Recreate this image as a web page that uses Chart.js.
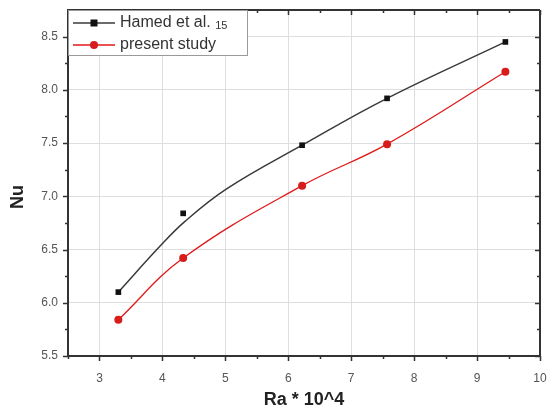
<!DOCTYPE html>
<html>
<head>
<meta charset="utf-8">
<script src="https://cdn.jsdelivr.net/npm/chart.js@4.4.1/dist/chart.umd.min.js"></script>
<style>
  html, body { margin: 0; padding: 0; background: #fff; }
  #wrap { width: 548px; height: 414px; }
</style>
</head>
<body>
<div id="wrap"><canvas id="c" width="548" height="414"></canvas></div>
<script>
// Nusselt number against Rayleigh number (Ra in units of 10^4)
const raValues  = [3.3, 4.33, 6.22, 7.57, 9.45];
const hamedNu   = [6.10, 6.84, 7.48, 7.92, 8.45];
const presentNu = [5.84, 6.42, 7.10, 7.49, 8.17];

// smooth fitted curve for the Hamed et al. data
const hamedFitRa = [3.3, 3.96, 4.35, 5.02, 6.22, 7.57, 9.45];
const hamedFitNu = [6.10, 6.53, 6.76, 7.07, 7.48, 7.92, 8.45];

const xTicks = [3, 4, 5, 6, 7, 8, 9, 10];
const yTicks = [5.5, 6.0, 6.5, 7.0, 7.5, 8.0, 8.5];
const xMinor = [2.5, 3.5, 4.5, 5.5, 6.5, 7.5, 8.5, 9.5];
const yMinor = [5.75, 6.25, 6.75, 7.25, 7.75, 8.25];

const seriesNames = ['Hamed et al.', 'present study'];

const FONT = "'Liberation Sans', Arial, sans-serif";
const BLACK = '#111111';
const DARK_LINE = '#3a3a3a';
const RED = '#e01818';

const pts = (xs, ys) => xs.map((x, i) => ({ x: x, y: ys[i] }));

// frame, tick marks, axis titles and legend box
const decor = {
  id: 'decor',
  afterDraw(chart) {
    const { ctx, chartArea: a, scales: { x, y } } = chart;
    ctx.save();
    ctx.strokeStyle = '#333';
    ctx.lineWidth = 2;
    ctx.beginPath();
    ctx.moveTo(a.left, a.top); ctx.lineTo(a.right, a.top);
    ctx.moveTo(a.right, a.top); ctx.lineTo(a.right, a.bottom);
    ctx.stroke();

    ctx.lineWidth = 1.5;
    ctx.beginPath();
    const tickX = (v, len) => {
      const px = Math.round(x.getPixelForValue(v)) + 0.5;
      ctx.moveTo(px, a.bottom); ctx.lineTo(px, a.bottom + len);
      ctx.moveTo(px, a.top); ctx.lineTo(px, a.top + len);
    };
    const tickY = (v, len) => {
      const py = Math.round(y.getPixelForValue(v)) + 0.5;
      ctx.moveTo(a.left, py); ctx.lineTo(a.left - len, py);
      ctx.moveTo(a.right, py); ctx.lineTo(a.right - len, py);
    };
    xTicks.forEach(v => tickX(v, 5));
    xMinor.forEach(v => tickX(v, 3));
    yTicks.forEach(v => tickY(v, 5));
    yMinor.forEach(v => tickY(v, 3));
    ctx.stroke();

    // axis titles
    ctx.fillStyle = '#222';
    ctx.font = 'bold 18px ' + FONT;
    ctx.textAlign = 'center';
    ctx.textBaseline = 'middle';
    ctx.fillText('Ra * 10^4', (a.left + a.right) / 2, 400);
    ctx.save();
    ctx.translate(18, (a.top + a.bottom) / 2 + 14);
    ctx.rotate(-Math.PI / 2);
    ctx.fillText('Nu', 0, 0);
    ctx.restore();

    // legend
    const bx = a.left, by = a.top, bw = 179, bh = 45;
    ctx.fillStyle = '#fff';
    ctx.fillRect(bx + 1, by + 1, bw, bh);
    ctx.strokeStyle = '#9a9a9a';
    ctx.lineWidth = 1;
    ctx.strokeRect(bx + 0.5, by + 0.5, bw, bh);

    const ds = chart.data.datasets;
    const rows = [
      { y: by + 13, line: ds[2].borderColor, mark: ds[0], label: seriesNames[0], ref: '15' },
      { y: by + 35, line: ds[3].borderColor, mark: ds[1], label: seriesNames[1] }
    ];
    rows.forEach(r => {
      ctx.strokeStyle = r.line;
      ctx.lineWidth = 1.5;
      ctx.beginPath();
      ctx.moveTo(bx + 5, r.y); ctx.lineTo(bx + 47, r.y);
      ctx.stroke();
      ctx.fillStyle = r.mark.backgroundColor;
      const cx = bx + 26;
      if (r.mark.pointStyle === 'rect') {
        ctx.fillRect(cx - 3.5, r.y - 3.5, 7, 7);
      } else {
        ctx.beginPath(); ctx.arc(cx, r.y, 4, 0, Math.PI * 2); ctx.fill();
      }
      ctx.fillStyle = '#333';
      ctx.font = '16px ' + FONT;
      ctx.textAlign = 'left';
      ctx.textBaseline = 'middle';
      ctx.fillText(r.label, bx + 52, r.y);
      if (r.ref) {
        const w = ctx.measureText(r.label + ' ').width;
        ctx.font = '11px ' + FONT;
        ctx.fillText(r.ref, bx + 52 + w, r.y + 3);
      }
    });
    ctx.restore();
  }
};

new Chart(document.getElementById('c'), {
  type: 'scatter',
  data: {
    datasets: [
      {
        label: seriesNames[0],
        data: pts(raValues, hamedNu),
        pointStyle: 'rect',
        pointRadius: 4,
        backgroundColor: BLACK,
        borderColor: BLACK,
        borderWidth: 0,
        showLine: false,
        order: 0
      },
      {
        label: seriesNames[1],
        data: pts(raValues, presentNu),
        pointStyle: 'circle',
        pointRadius: 4,
        backgroundColor: '#d81c1c',
        borderColor: '#d81c1c',
        borderWidth: 0,
        showLine: false,
        order: 1
      },
      {
        label: seriesNames[0] + ' fit',
        data: pts(hamedFitRa, hamedFitNu),
        showLine: true,
        pointRadius: 0,
        borderColor: DARK_LINE,
        borderWidth: 1.5,
        tension: 0.4,
        order: 2
      },
      {
        label: seriesNames[1] + ' fit',
        data: pts(raValues, presentNu),
        showLine: true,
        pointRadius: 0,
        borderColor: RED,
        borderWidth: 1.3,
        tension: 0.4,
        order: 3
      }
    ]
  },
  options: {
    responsive: false,
    animation: false,
    devicePixelRatio: 1,
    layout: { padding: { top: 10, right: 8, left: 0, bottom: 0 } },
    plugins: { legend: { display: false }, tooltip: { enabled: false } },
    scales: {
      x: {
        type: 'linear',
        min: 2.5,
        max: 10,
        afterBuildTicks: s => { s.ticks = xTicks.map(v => ({ value: v })); },
        afterFit: s => { s.height = 58; s.paddingLeft = 0; s.paddingRight = 0; },
        grid: { color: '#dedede', lineWidth: 1, drawTicks: false },
        border: { display: true, color: '#333', width: 2 },
        ticks: { color: '#555', font: { family: FONT, size: 12 }, padding: 15, maxRotation: 0 }
      },
      y: {
        type: 'linear',
        min: 5.5,
        max: 8.75,
        afterBuildTicks: s => { s.ticks = yTicks.map(v => ({ value: v })); },
        afterFit: s => { s.width = 68; s.paddingTop = 0; s.paddingBottom = 0; },
        grid: { color: '#dedede', lineWidth: 1, drawTicks: false },
        border: { display: true, color: '#333', width: 2 },
        ticks: { color: '#555', font: { family: FONT, size: 12 }, padding: 10,
                 callback: v => v.toFixed(1) }
      }
    }
  },
  plugins: [decor]
});
</script>
</body>
</html>
